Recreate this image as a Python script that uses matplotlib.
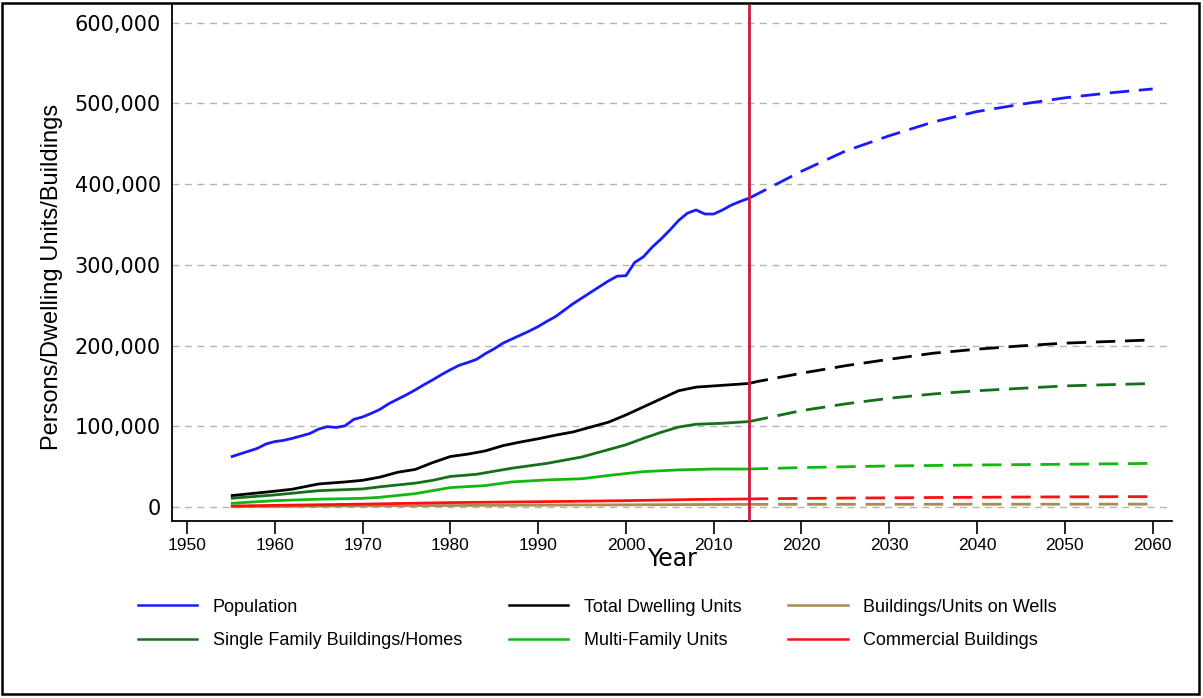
import matplotlib
matplotlib.use("Agg")
import matplotlib.pyplot as plt
from matplotlib.patches import Rectangle
from matplotlib.ticker import FuncFormatter
from matplotlib.lines import Line2D

# ---------------- data (values in persons / units / buildings) ----------------
pop_years = [1955, 1956, 1957, 1958, 1959, 1960, 1961, 1962, 1963, 1964, 1965, 1966, 1967,
             1968, 1969, 1970, 1971, 1972, 1973, 1974, 1975, 1976, 1977, 1978, 1979, 1980,
             1981, 1982, 1983, 1984, 1985, 1986, 1987, 1988, 1989, 1990, 1991, 1992, 1993,
             1994, 1995, 1996, 1997, 1998, 1999, 2000, 2001, 2002, 2003, 2004, 2005, 2006,
             2007, 2008, 2009, 2010, 2011, 2012, 2013, 2014]
pop_hist = [62000, 65500, 69000, 72500, 78000, 81000, 82500, 85000, 88000, 91000, 96500,
            99500, 98500, 100500, 108500, 111500, 116000, 121000, 128000, 133500, 139000,
            145000, 151500, 157500, 164000, 170000, 175500, 179000, 183000, 190000, 196000,
            203000, 208000, 213000, 218000, 223500, 230000, 236000, 244000, 252000, 259000,
            266000, 273000, 280000, 286000, 286500, 303000, 310000, 322000, 332000, 343000,
            355000, 364000, 368000, 363000, 363000, 368000, 374000, 378500, 382500]

proj_years = [2014, 2015, 2020, 2025, 2030, 2035, 2040, 2045, 2050, 2055, 2060]
pop_proj = [382500, 388000, 416000, 441000, 460000, 477000, 490000, 499000, 507000, 513000, 518000]
total_proj = [153000, 155500, 165700, 175000, 183000, 190500, 195500, 199600, 203000, 205000, 207000]
sf_proj = [105800, 108000, 119400, 127700, 134700, 140000, 144000, 147000, 150000, 151500, 153000]
multi_proj = [47000, 47300, 48800, 49800, 50800, 51400, 52000, 52500, 52900, 53400, 54000]
comm_proj = [9900, 10100, 10600, 11000, 11300, 11700, 12000, 12300, 12500, 12700, 12800]
wells_proj = [3200, 3200, 3250, 3300, 3300, 3350, 3400, 3400, 3450, 3500, 3500]

total_years = [1955, 1960, 1962, 1965, 1968, 1970, 1972, 1974, 1976, 1978, 1980, 1982, 1984,
               1986, 1988, 1990, 1992, 1994, 1996, 1998, 2000, 2002, 2004, 2006, 2008, 2010,
               2012, 2014]
total_hist = [14000, 19500, 22000, 28500, 31000, 33000, 37000, 43000, 46500, 55000, 62500,
              65500, 69500, 76000, 80500, 84500, 89000, 93000, 99000, 105000, 114000, 124000,
              134000, 144000, 148500, 150000, 151500, 153000]

sf_years = [1955, 1960, 1965, 1970, 1972, 1976, 1978, 1980, 1983, 1987, 1991, 1995, 1998,
            2000, 2002, 2004, 2006, 2008, 2011, 2014]
sf_hist = [10700, 14900, 20200, 22300, 25000, 29500, 33000, 37800, 40500, 48000, 54000, 62000,
           71000, 77000, 85000, 92500, 99000, 102500, 103700, 105800]

multi_years = [1955, 1960, 1965, 1970, 1972, 1976, 1980, 1984, 1987, 1991, 1995, 1998, 2002,
               2006, 2010, 2014]
multi_hist = [4500, 7800, 9600, 10700, 12000, 16500, 24000, 26500, 31000, 33500, 35000, 39000,
              43800, 45900, 47000, 47000]

comm_years = [1955, 1970, 1980, 1991, 2000, 2008, 2014]
comm_hist = [1200, 3500, 5400, 6600, 7800, 9300, 9900]

wells_years = [1955, 1970, 1980, 1996, 2014]
wells_hist = [300, 1300, 1800, 2500, 3200]

cutoff_year = 2014
x_ticks = [1950, 1960, 1970, 1980, 1990, 2000, 2010, 2020, 2030, 2040, 2050, 2060]
y_ticks = [0, 100000, 200000, 300000, 400000, 500000, 600000]

labels = ["Population", "Total Dwelling Units", "Buildings/Units on Wells",
          "Single Family Buildings/Homes", "Multi-Family Units", "Commercial Buildings"]

# ---------------- styles ----------------
c_pop = "#1a1aff"
c_total = "#000000"
c_sf = "#16701a"
c_multi = "#10b810"
c_comm = "#ff1010"
c_wells = "#a88c52"
c_vline = "#cc1a40"
lw = 2.0
dash = (0, (7, 3.5))

fig = plt.figure(figsize=(12.03, 6.98), dpi=100)
ax = fig.add_axes([172 / 1203, 1 - 521 / 698, 1000 / 1203, 516 / 698])

series = [
    (wells_years, wells_hist, wells_proj, c_wells),
    (comm_years, comm_hist, comm_proj, c_comm),
    (multi_years, multi_hist, multi_proj, c_multi),
    (sf_years, sf_hist, sf_proj, c_sf),
    (total_years, total_hist, total_proj, c_total),
    (pop_years, pop_hist, pop_proj, c_pop),
]
for yrs, hist, proj, col in series:
    ax.plot(yrs, hist, color=col, lw=lw, solid_capstyle="butt", zorder=3)
    ax.plot(proj_years, proj, color=col, lw=lw, linestyle=dash, zorder=3)

ax.axvline(cutoff_year, color=c_vline, lw=2.0, zorder=4)

ax.set_xlim(1948.3, 2062.2)
ax.set_ylim(-17400, 622000)
ax.set_xticks(x_ticks)
ax.set_yticks(y_ticks)
ax.yaxis.set_major_formatter(FuncFormatter(lambda v, p: f"{int(v):,}"))
ax.grid(axis="y", color="#b4b4b4", linestyle=(0, (5, 4)), lw=1.0, zorder=0)
ax.grid(axis="x", visible=False)
for s in ["top", "right"]:
    ax.spines[s].set_visible(False)
for s in ["left", "bottom"]:
    ax.spines[s].set_linewidth(1.3)
ax.tick_params(axis="x", direction="out", length=9, width=1.2, pad=3)
ax.tick_params(axis="y", length=0, pad=8)
for t in ax.get_xticklabels():
    t.set_fontfamily("Liberation Sans")
    t.set_fontsize(12.5)
for t in ax.get_yticklabels():
    t.set_fontfamily("DejaVu Sans")
    t.set_fontsize(15)

ax.set_xlabel("Year", fontfamily="DejaVu Sans", fontsize=17, labelpad=-4)
ax.set_ylabel("Persons/Dwelling Units/Buildings", fontfamily="Liberation Sans", fontsize=17)
ax.yaxis.set_label_coords(-0.109, 0.473)

handles = [Line2D([], [], color=c, lw=1.8) for c in
           [c_pop, c_total, c_wells, c_sf, c_multi, c_comm]]
# legend fills column-wise: reorder so rows read as in the reference
order = [0, 3, 1, 4, 2, 5]
fig.legend([handles[i] for i in order], [labels[i] for i in order], ncol=3,
           loc="upper left", bbox_to_anchor=(125 / 1203, 1 - 586 / 698), frameon=False,
           prop={"family": "Liberation Sans", "size": 13}, handlelength=3.3,
           handletextpad=0.85, columnspacing=2.6, labelspacing=0.92, borderpad=0.2)

fig.patches.append(Rectangle((0.002, 0.006), 0.995, 0.99, transform=fig.transFigure,
                             fill=False, edgecolor="black", lw=1.8))

fig.savefig("out.png", dpi=100, facecolor="white")
